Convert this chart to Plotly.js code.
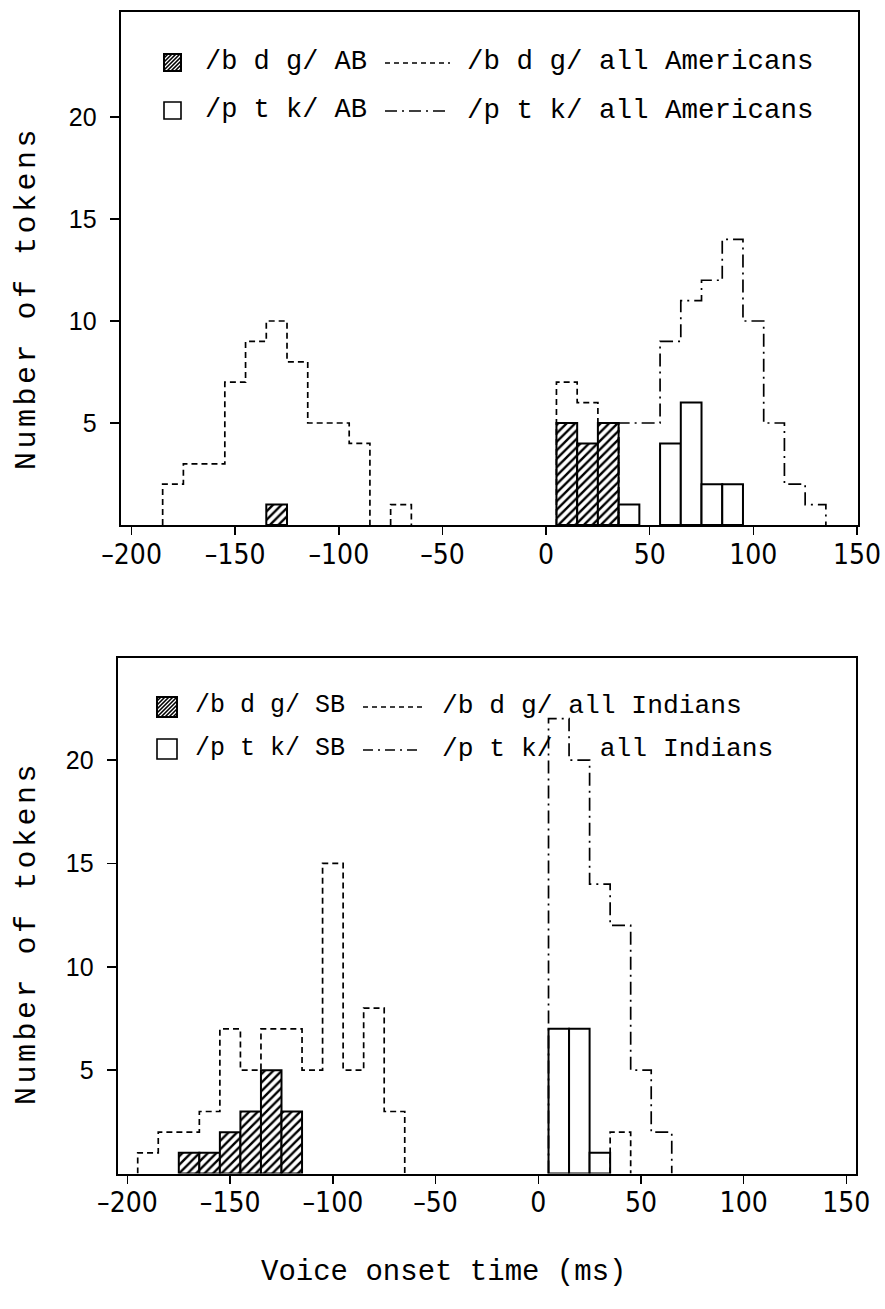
<!DOCTYPE html>
<html>
<head>
<meta charset="utf-8">
<script src="https://cdn.plot.ly/plotly-3.0.1.min.js"></script>
<style>
html,body{margin:0;padding:0;background:#fff;}
#chart{width:885px;height:1309px;}
</style>
</head>
<body>
<div id="chart"></div>
<script>
// ---------------- DATA ----------------
// Top panel: American speaker AB vs all Americans (10 ms bins, centre values)
const abBdgCenters = [-130, 10, 20, 30];
const abBdgCounts  = [1, 5, 4, 5];
const abPtkCenters = [40, 60, 70, 80, 90];
const abPtkCounts  = [1, 4, 6, 2, 2];
const allAmBdgCenters = [-180,-170,-160,-150,-140,-130,-120,-110,-100,-90,-80,-70,-60,-50,-40,-30,-20,-10,0,10,20,30];
const allAmBdgCounts  = [2,3,3,7,9,10,8,5,5,4,0,1,0,0,0,0,0,0,0,7,6,5];
const allAmPtkCenters = [40,50,60,70,80,90,100,110,120,130];
const allAmPtkCounts  = [5,5,9,11,12,14,10,5,2,1];

// Bottom panel: Indian speaker SB vs all Indians
const sbBdgCenters = [-170,-160,-150,-140,-130,-120];
const sbBdgCounts  = [1,1,2,3,5,3];
const sbPtkCenters = [10,20,30];
const sbPtkCounts  = [7,7,1];
const allInBdgCenters = [-190,-180,-170,-160,-150,-140,-130,-120,-110,-100,-90,-80,-70,-60,-50,-40,-30,-20,-10,0,10,20,30,40];
const allInBdgCounts  = [1,2,2,3,7,5,7,7,5,15,5,8,3,0,0,0,0,0,0,0,0,0,0,2];
const allInPtkCenters = [10,20,30,40,50,60];
const allInPtkCounts  = [22,20,14,12,5,2];

const binWidth = 10;
const xTickVals = [-200,-150,-100,-50,0,50,100,150];
const yTickVals = [5,10,15,20];

const topLegendLabels = ['/b d g/ AB', '/b d g/ all Americans', '/p t k/ AB', '/p t k/ all Americans'];
const botLegendLabels = ['/b d g/ SB', '/b d g/ all Indians', '/p t k/ SB', '/p t k/   all Indians'];
const yTitle = 'Number of tokens';
const xTitle = 'Voice onset time (ms)';

// ---------------- HELPERS ----------------
const W = 885, H = 1309;
const fx = p => p / W;
const fy = p => 1 - p / H;

// histogram outline: runs of non-empty bins, empty bins leave a gap
function stepXY(centers, counts, w) {
  const xs = [], ys = [];
  let inRun = false, prev = 0;
  for (let i = 0; i < centers.length; i++) {
    const c = counts[i], L = centers[i] - w/2, R = centers[i] + w/2;
    if (c > 0) {
      if (!inRun) { xs.push(L); ys.push(0); }
      else { xs.push(L); ys.push(prev); }
      xs.push(L); ys.push(c);
      xs.push(R); ys.push(c);
      inRun = true; prev = c;
      const nextEmpty = (i === centers.length - 1) || counts[i+1] <= 0;
      if (nextEmpty) { xs.push(R); ys.push(0); xs.push(null); ys.push(null); inRun = false; }
    }
  }
  return {x: xs, y: ys};
}

const DASH = '6px,4px';
const DASHDOT = '13px,5px,2px,5px';

function barTrace(c, v, hatched, xa, ya) {
  const m = {color: 'white', line: {color: 'black', width: 2}};
  if (hatched) m.pattern = {shape: '/', fgcolor: 'black', bgcolor: 'white', size: 6, solidity: 0.4};
  return {type: 'bar', x: c, y: v, width: binWidth, marker: m, xaxis: xa, yaxis: ya, showlegend: false, hoverinfo: 'x+y'};
}
function stepTrace(c, v, dash, xa, ya) {
  const s = stepXY(c, v, binWidth);
  return {type: 'scatter', mode: 'lines', x: s.x, y: s.y, connectgaps: false,
          line: {color: 'black', width: 1.7, dash: dash},
          xaxis: xa, yaxis: ya, showlegend: false, hoverinfo: 'skip'};
}

const traces = [
  barTrace(abBdgCenters, abBdgCounts, true, 'x', 'y'),
  barTrace(abPtkCenters, abPtkCounts, false, 'x', 'y'),
  stepTrace(allAmBdgCenters, allAmBdgCounts, DASH, 'x', 'y'),
  stepTrace(allAmPtkCenters, allAmPtkCounts, DASHDOT, 'x', 'y'),
  barTrace(sbBdgCenters, sbBdgCounts, true, 'x2', 'y2'),
  barTrace(sbPtkCenters, sbPtkCounts, false, 'x2', 'y2'),
  stepTrace(allInBdgCenters, allInBdgCounts, DASH, 'x2', 'y2'),
  stepTrace(allInPtkCenters, allInPtkCounts, DASHDOT, 'x2', 'y2')
];

const xTickFont = {family: 'Liberation Sans Narrow, DejaVu Sans Condensed, Liberation Sans, sans-serif', size: 28, color: 'black'};
const yTickFont = {family: 'Liberation Sans, Arial, sans-serif', size: 25, color: 'black'};

function xAxis(dom, rng, anchor) {
  return {domain: dom, range: rng, anchor: anchor, showline: true, mirror: true, linecolor: 'black', linewidth: 2,
          ticks: 'outside', ticklen: 8, tickwidth: 1.5, tickcolor: 'black', tickvals: xTickVals,
          ticktext: xTickVals.map(v => v < 0 ? '\u2013' + Math.abs(v) : String(v)),
          tickfont: xTickFont, showgrid: false, zeroline: false, fixedrange: true, ticklabelstandoff: -5};
}
function yAxis(dom, rng, anchor) {
  return {domain: dom, range: rng, anchor: anchor, showline: true, mirror: true, linecolor: 'black', linewidth: 2,
          ticks: 'outside', ticklen: 9, tickwidth: 1.5, tickcolor: 'black', tickvals: yTickVals,
          ticktext: yTickVals.map(v => String(v) + '\u2006\u2006'),
          tickfont: yTickFont, showgrid: false, zeroline: false, fixedrange: true};
}

// ---------------- LEGEND (drawn) ----------------
const shapes = [];
const annotations = [];
const monoFamily = 'Liberation Mono, DejaVu Sans Mono, monospace';

function hatchSquare(x0, y0, s) {
  shapes.push({type: 'rect', xref: 'paper', yref: 'paper', x0: fx(x0), x1: fx(x0+s), y0: fy(y0+s), y1: fy(y0),
               line: {color: 'black', width: 2}, fillcolor: 'white'});
  let d = '';
  for (let c = 4; c < 2*s; c += 4) {
    let ax, ay, bx, by;
    if (c <= s) { ax = 0; ay = c; bx = c; by = 0; }
    else { ax = c - s; ay = s; bx = s; by = c - s; }
    d += 'M' + fx(x0+ax) + ',' + fy(y0+ay) + 'L' + fx(x0+bx) + ',' + fy(y0+by);
  }
  shapes.push({type: 'path', xref: 'paper', yref: 'paper', path: d, line: {color: 'black', width: 1.6}});
}
function openSquare(x0, y0, s) {
  shapes.push({type: 'rect', xref: 'paper', yref: 'paper', x0: fx(x0), x1: fx(x0+s), y0: fy(y0+s), y1: fy(y0),
               line: {color: 'black', width: 1.6}, fillcolor: 'white'});
}
function lineSample(x0, x1, y, dash) {
  shapes.push({type: 'line', xref: 'paper', yref: 'paper', x0: fx(x0), x1: fx(x1), y0: fy(y), y1: fy(y),
               line: {color: 'black', width: 1.6, dash: dash}});
}
function label(txt, x, y, size, opts) {
  annotations.push(Object.assign({text: txt, xref: 'paper', yref: 'paper', x: fx(x), y: fy(y), xanchor: 'left', yanchor: 'middle',
     showarrow: false, font: {family: monoFamily, size: size, color: 'black'}}, opts || {}));
}

// top legend
hatchSquare(164, 54, 17);
openSquare(164, 102, 17);
label(topLegendLabels[0], 203, 62, 27);
label(topLegendLabels[2], 203, 110, 27);
lineSample(385, 450, 63, '5px,4px');
lineSample(385, 450, 111, '12px,5px,2px,5px');
label(topLegendLabels[1], 465, 62, 27.5);
label(topLegendLabels[3], 465, 110, 27.5);

// bottom legend
hatchSquare(157, 697, 20);
openSquare(157, 739, 20);
label(botLegendLabels[0], 193, 706, 25);
label(botLegendLabels[2], 193, 749, 25);
lineSample(363, 422, 707, '5px,4px');
lineSample(363, 422, 750, '10px,5px,2px,5px');
label(botLegendLabels[1], 440, 706, 26.3);
label(botLegendLabels[3], 440, 749, 26.3);

// axis titles
const yTitleFont = {family: monoFamily, size: 30, color: 'black'};
annotations.push({text: yTitle, xref: 'paper', yref: 'paper', x: fx(27), y: fy(298), textangle: -90,
                  xanchor: 'center', yanchor: 'middle', showarrow: false, font: yTitleFont});
annotations.push({text: yTitle, xref: 'paper', yref: 'paper', x: fx(27), y: fy(933), textangle: -90,
                  xanchor: 'center', yanchor: 'middle', showarrow: false, font: yTitleFont});
annotations.push({text: xTitle, xref: 'paper', yref: 'paper', x: fx(443), y: fy(1272),
                  xanchor: 'center', yanchor: 'middle', showarrow: false, font: {family: monoFamily, size: 29, color: 'black'}});

const layout = {
  width: W, height: H, autosize: false,
  margin: {l: 0, r: 0, t: 0, b: 0},
  paper_bgcolor: 'white', plot_bgcolor: 'white',
  showlegend: false, barmode: 'overlay', bargap: 0,
  xaxis: xAxis([fx(121), fx(858)], [-205.1, 150.5], 'y'),
  yaxis: yAxis([fy(525), fy(12)], [0, 25.15], 'x'),
  xaxis2: xAxis([fx(118), fx(856)], [-204.6, 154.7], 'y2'),
  yaxis2: yAxis([fy(1173.5), fy(657.5)], [0, 24.96], 'x2'),
  shapes: shapes,
  annotations: annotations
};

Plotly.newPlot('chart', traces, layout, {displayModeBar: false, staticPlot: true}).then(function (gd) {
  // typewriter-style wide letter spacing for the rotated axis titles
  document.querySelectorAll('#chart .annotation-text').forEach(function (t) {
    if (t.textContent === yTitle) { t.style.letterSpacing = '3.5px'; }
  });
});
</script>
</body>
</html>
